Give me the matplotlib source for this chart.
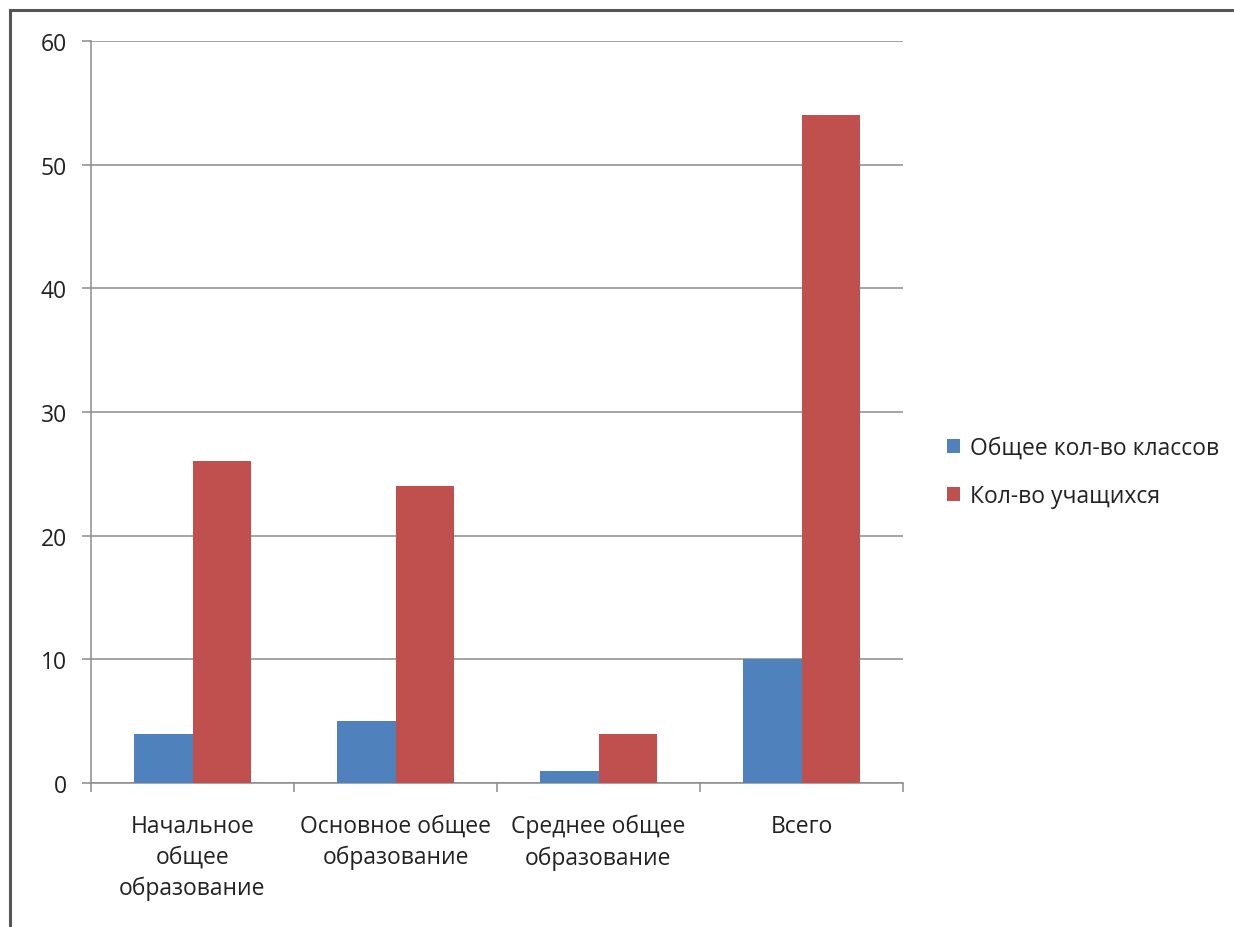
import matplotlib.pyplot as plt
import numpy as np
from matplotlib.lines import Line2D

categories = ["Начальное\nобщее\nобразование", "Основное общее\nобразование",
              "Среднее общее\nобразование", "Всего"]
classes = [4, 5, 1, 10]
students = [26, 24, 4, 54]
series_names = ["Общее кол-во классов", "Кол-во учащихся"]
yticks = [0, 10, 20, 30, 40, 50, 60]

plt.rcParams['font.family'] = ['Open Sans', 'DejaVu Sans']
FS = 16.5

fig = plt.figure(figsize=(12.34, 9.28), dpi=100)
W, H = 1234, 928
ax = fig.add_axes([91 / W, 1 - 784 / H, (903 - 91) / W, (784 - 42) / H])

x = np.arange(len(categories))
w = 0.287
ax.bar(x - w / 2, classes, w, color="#4F81BD", label=series_names[0], zorder=3)
ax.bar(x + w / 2, students, w, color="#C0504D", label=series_names[1], zorder=3)

ax.set_xlim(-0.5, len(categories) - 0.5)
ax.set_ylim(0, 60)
ax.set_yticks(yticks)
ax.yaxis.grid(True, color="#8c8c8c", linewidth=1.1, zorder=0)
ax.tick_params(axis='y', length=6.5, width=1.1, color="#8c8c8c", labelsize=FS,
               pad=11, labelcolor="#222222")

# category boundary ticks on x axis
ax.set_xticks(np.arange(-0.5, len(categories)), minor=False)
ax.set_xticklabels([])
ax.tick_params(axis='x', length=6.5, width=1.1, color="#8c8c8c", direction='out')
for xi, lab in zip(x, categories):
    ax.text(xi, -2.5, lab, ha='center', va='top', fontsize=FS,
            color="#222222", linespacing=1.38)

for s in ["top", "right"]:
    ax.spines[s].set_visible(False)
for s in ["left", "bottom"]:
    ax.spines[s].set_color("#8c8c8c")
    ax.spines[s].set_linewidth(1.1)

leg = fig.legend(loc='center left', bbox_to_anchor=(926 / W, 1 - 473 / H),
                 frameon=False, fontsize=FS, handlelength=0.6, handleheight=0.6,
                 handletextpad=0.4, labelspacing=1.05, labelcolor="#222222")

# outer frame (left and top edges)
fig.add_artist(Line2D([10 / W, 10 / W], [0, 1 - 11 / H], transform=fig.transFigure,
                      color="#555555", linewidth=2.2))
fig.add_artist(Line2D([10 / W, 1], [1 - 11 / H, 1 - 11 / H], transform=fig.transFigure,
                      color="#555555", linewidth=2.2))

fig.savefig("out.png", dpi=100)
